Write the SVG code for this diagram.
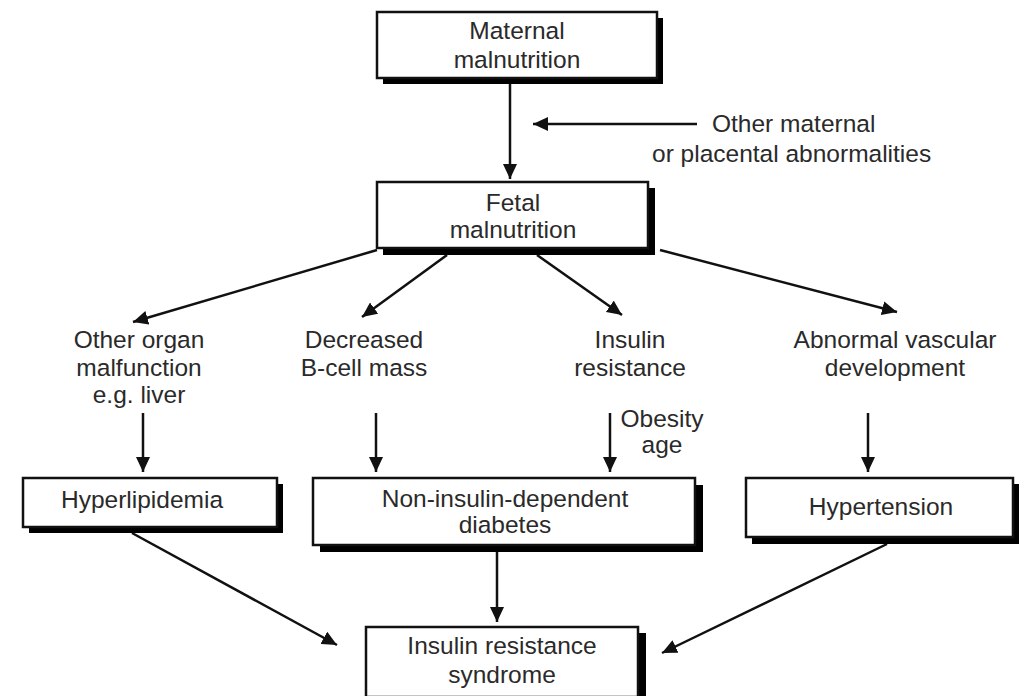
<svg xmlns="http://www.w3.org/2000/svg" width="1025" height="696" viewBox="0 0 1025 696">
  <style>
    .box { fill: #ffffff; stroke: #111; stroke-width: 2.5; }
    .shadow { fill: #000; }
    .t { font-family: "Liberation Sans", Arial, sans-serif; font-size: 24.5px; fill: #2a2a2a; text-anchor: middle; }
    .tl { font-family: "Liberation Sans", Arial, sans-serif; font-size: 24.5px; fill: #2a2a2a; text-anchor: start; }
    .c { stroke: #111; stroke-width: 2.5; fill: none; marker-end: url(#ah); }
  </style>
  <defs>
    <marker id="ah" markerUnits="userSpaceOnUse" markerWidth="16" markerHeight="14" refX="15" refY="7" orient="auto">
      <path d="M0,0 L15,7 L0,14 z" fill="#111"/>
    </marker>
  </defs>
  <rect width="1025" height="696" fill="#ffffff"/>

  <g id="connectors">
    <path class="c" d="M510,84 L510,179"/>
    <path class="c" d="M697,124 L533,124"/>
    <path class="c" d="M377,250 L133,322"/>
    <path class="c" d="M447,255 L362,317"/>
    <path class="c" d="M537,255 L622,315"/>
    <path class="c" d="M660,250 L897,312"/>
    <path class="c" d="M143,413 L143,472"/>
    <path class="c" d="M376,413 L376,472"/>
    <path class="c" d="M610,413 L610,472"/>
    <path class="c" d="M868,413 L868,472"/>
    <path class="c" d="M497,552 L497,622"/>
    <path class="c" d="M132,533 L337,645"/>
    <path class="c" d="M887,544 L662,653"/>
  </g>

  <g id="maternal-malnutrition">
    <rect class="shadow" x="383" y="18" width="280" height="66"/>
    <rect class="box" x="377" y="12" width="280" height="66"/>
    <text class="t" x="517" y="39">Maternal</text>
    <text class="t" x="517" y="68">malnutrition</text>
  </g>

  <g id="other-maternal">
    <text class="tl" x="712" y="132">Other maternal</text>
    <text class="tl" x="652" y="162">or placental abnormalities</text>
  </g>

  <g id="fetal-malnutrition">
    <rect class="shadow" x="383" y="188" width="272" height="67"/>
    <rect class="box" x="377" y="182" width="271" height="66"/>
    <text class="t" x="513" y="211">Fetal</text>
    <text class="t" x="513" y="238">malnutrition</text>
  </g>

  <g id="other-organ">
    <text class="t" x="139" y="348">Other organ</text>
    <text class="t" x="139" y="376">malfunction</text>
    <text class="t" x="139" y="403">e.g. liver</text>
  </g>

  <g id="decreased-bcell">
    <text class="t" x="364" y="348">Decreased</text>
    <text class="t" x="364" y="376">B-cell mass</text>
  </g>

  <g id="insulin-resistance">
    <text class="t" x="630" y="348">Insulin</text>
    <text class="t" x="630" y="376">resistance</text>
  </g>

  <g id="abnormal-vascular">
    <text class="t" x="895" y="348">Abnormal vascular</text>
    <text class="t" x="895" y="376">development</text>
  </g>

  <g id="obesity-age">
    <text class="t" x="662" y="427">Obesity</text>
    <text class="t" x="662" y="453">age</text>
  </g>

  <g id="hyperlipidemia">
    <rect class="shadow" x="29" y="484" width="254" height="49"/>
    <rect class="box" x="23" y="478" width="254" height="49"/>
    <text class="t" x="142" y="508">Hyperlipidemia</text>
  </g>

  <g id="nidd">
    <rect class="shadow" x="320" y="485" width="383" height="67"/>
    <rect class="box" x="313" y="478" width="382" height="67"/>
    <text class="t" x="505" y="507">Non-insulin-dependent</text>
    <text class="t" x="505" y="533">diabetes</text>
  </g>

  <g id="hypertension">
    <rect class="shadow" x="752" y="484" width="267" height="60"/>
    <rect class="box" x="746" y="478" width="267" height="59"/>
    <text class="t" x="881" y="515">Hypertension</text>
  </g>

  <g id="insulin-resistance-syndrome">
    <rect class="shadow" x="372" y="633" width="274" height="70"/>
    <rect class="box" x="366" y="627" width="272" height="70"/>
    <text class="t" x="502" y="654">Insulin resistance</text>
    <text class="t" x="502" y="683">syndrome</text>
  </g>
</svg>
